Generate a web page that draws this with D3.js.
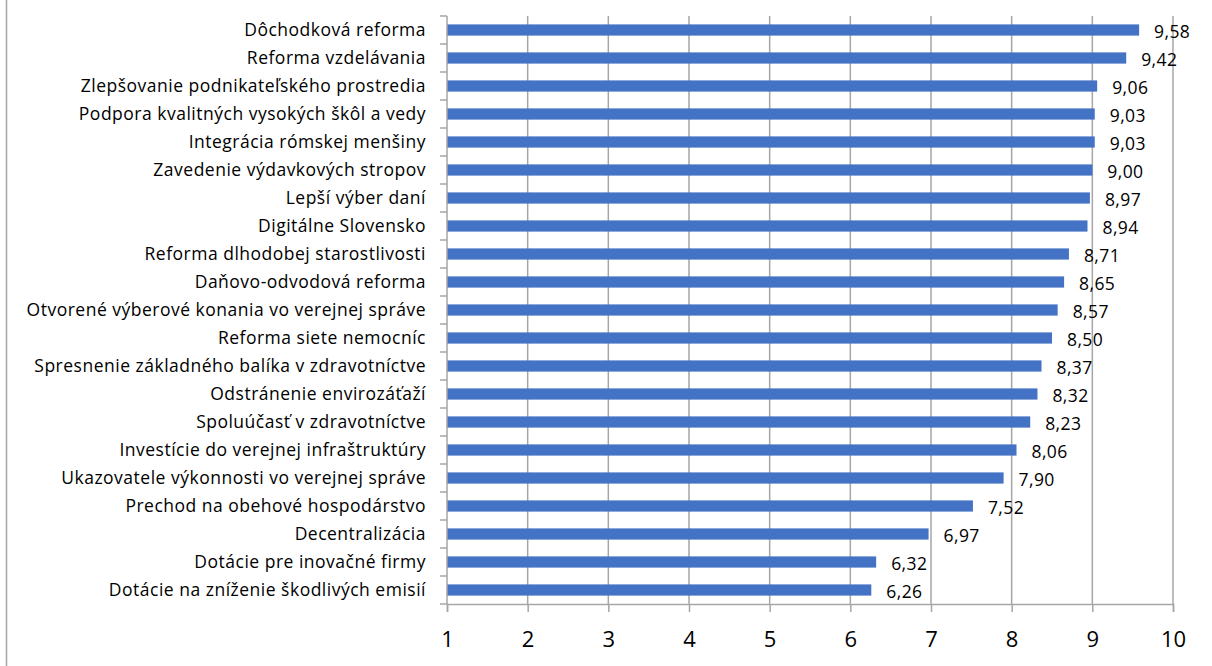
<!DOCTYPE html>
<meta charset="utf-8">
<style>
  body { margin: 0; background: #fff; }
  text { font-family: 'Open Sans', sans-serif; fill: #000; }
</style>
<svg width="1212" height="666"></svg>
<script src="https://d3js.org/d3.v7.min.js"></script>
<script>
var categories = [
  "Dôchodková reforma",
  "Reforma vzdelávania",
  "Zlepšovanie podnikateľského prostredia",
  "Podpora kvalitných vysokých škôl a vedy",
  "Integrácia rómskej menšiny",
  "Zavedenie výdavkových stropov",
  "Lepší výber daní",
  "Digitálne Slovensko",
  "Reforma dlhodobej starostlivosti",
  "Daňovo-odvodová reforma",
  "Otvorené výberové konania vo verejnej správe",
  "Reforma siete nemocníc",
  "Spresnenie základného balíka v zdravotníctve",
  "Odstránenie envirozáťaží",
  "Spoluúčasť v zdravotníctve",
  "Investície do verejnej infraštruktúry",
  "Ukazovatele výkonnosti vo verejnej správe",
  "Prechod na obehové hospodárstvo",
  "Decentralizácia",
  "Dotácie pre inovačné firmy",
  "Dotácie na zníženie škodlivých emisií"
];
var values = [9.58, 9.42, 9.06, 9.03, 9.03, 9.00, 8.97, 8.94, 8.71, 8.65, 8.57,
              8.50, 8.37, 8.32, 8.23, 8.06, 7.90, 7.52, 6.97, 6.32, 6.26];
var xTicks = [1, 2, 3, 4, 5, 6, 7, 8, 9, 10];

var data = categories.map(function(c, i) { return {name: c, value: values[i]}; });

var svg = d3.select("svg"),
    margin = {top: 16, right: 39, bottom: 62, left: 447},
    width = +svg.attr("width") - margin.left - margin.right,
    height = +svg.attr("height") - margin.top - margin.bottom;

// outer frame line on the left
svg.append("line")
    .attr("x1", 6.5).attr("x2", 6.5)
    .attr("y1", 0).attr("y2", 666)
    .attr("stroke", "#a6a6a6")
    .attr("stroke-width", 1.5);

var g = svg.append("g").attr("transform", "translate(" + margin.left + "," + margin.top + ")");

var x = d3.scaleLinear().domain([1, 10]).range([0, width]);
var y = d3.scaleBand().domain(categories).range([0, height]).paddingInner(0.6).paddingOuter(0.3);

// gridlines
g.selectAll(".grid")
  .data(xTicks.slice(1))
  .enter().append("line")
    .attr("x1", function(d) { return x(d); })
    .attr("x2", function(d) { return x(d); })
    .attr("y1", 0).attr("y2", height)
    .attr("stroke", "#a6a6a6")
    .attr("stroke-width", 1.5);

// bars
g.selectAll(".bar")
  .data(data)
  .enter().append("rect")
    .attr("x", x(1))
    .attr("y", function(d) { return y(d.name); })
    .attr("width", function(d) { return x(d.value) - x(1); })
    .attr("height", y.bandwidth())
    .attr("fill", "#4472c4");

// value labels
g.selectAll(".val")
  .data(data)
  .enter().append("text")
    .attr("x", function(d) { return x(d.value) + 15; })
    .attr("y", function(d) { return y(d.name) + y.bandwidth() / 2 + 2; })
    .attr("dy", "0.35em")
    .style("font-size", "17.5px")
    .style("letter-spacing", "0.4px")
    .text(function(d) { return d.value.toFixed(2).replace(".", ","); });

// x axis
var xAxis = g.append("g")
    .attr("transform", "translate(0," + height + ")")
    .call(d3.axisBottom(x).tickValues(xTicks).tickFormat(d3.format("d")).tickSize(8).tickPadding(19));
xAxis.select(".domain").attr("stroke", "#a6a6a6").attr("stroke-width", 1.5);
xAxis.selectAll(".tick line").attr("stroke", "#a6a6a6").attr("stroke-width", 1.5);
xAxis.selectAll("text").style("font-size", "22px").attr("fill", "#000");

// y axis with ticks at category boundaries
var step = height / categories.length;
g.append("line")
    .attr("x1", 0).attr("x2", 0).attr("y1", 0).attr("y2", height)
    .attr("stroke", "#a6a6a6").attr("stroke-width", 1.5);
g.selectAll(".ytick")
  .data(d3.range(categories.length + 1))
  .enter().append("line")
    .attr("x1", -7).attr("x2", 0)
    .attr("y1", function(d) { return d * step; })
    .attr("y2", function(d) { return d * step; })
    .attr("stroke", "#a6a6a6").attr("stroke-width", 1.5);

g.selectAll(".cat")
  .data(data)
  .enter().append("text")
    .attr("x", -21)
    .attr("y", function(d) { return y(d.name) + y.bandwidth() / 2; })
    .attr("dy", "0.35em")
    .attr("text-anchor", "end")
    .style("font-size", "17.5px")
    .style("letter-spacing", "0.5px")
    .text(function(d) { return d.name; });
</script>
